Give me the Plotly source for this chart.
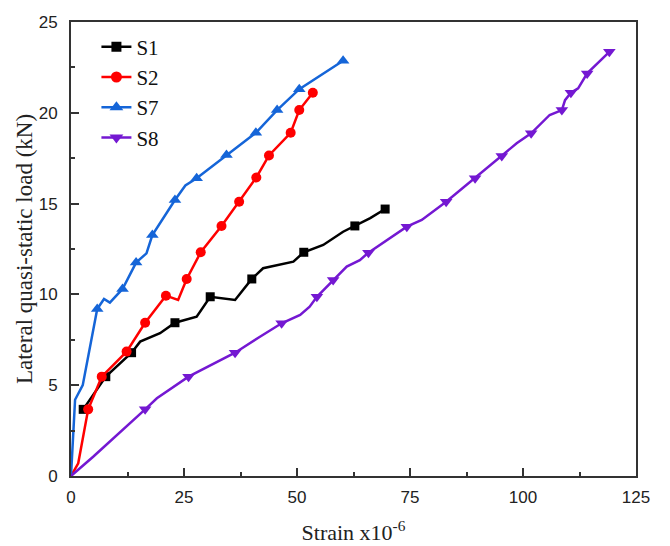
import plotly.graph_objects as go

# ---- data (strain x1e-6, load kN) ----
s1_x = [2.7, 7.7, 13.4, 15.3, 19.7, 23.0, 27.8, 30.8, 36.3, 40.0, 42.5, 49.2, 51.5, 55.8, 60.2, 62.8, 66.2, 69.5]
s1_y = [3.67, 5.47, 6.79, 7.40, 7.86, 8.44, 8.77, 9.87, 9.69, 10.85, 11.44, 11.80, 12.32, 12.72, 13.45, 13.77, 14.2, 14.70]
s1_mk = [0, 1, 2, 5, 7, 9, 12, 15, 17]

s2_x = [0, 1.6, 3.8, 6.8, 12.3, 16.4, 21.0, 23.7, 25.6, 28.7, 33.3, 37.2, 41.0, 43.8, 48.6, 50.5, 53.5]
s2_y = [0, 0.7, 3.67, 5.47, 6.85, 8.44, 9.93, 9.69, 10.85, 12.32, 13.77, 15.1, 16.44, 17.65, 18.9, 20.15, 21.1]
s2_mk = [2, 3, 4, 5, 6, 8, 9, 10, 11, 12, 13, 14, 15, 16]

s7_x = [0, 0.9, 2.6, 5.8, 7.3, 8.6, 11.4, 14.4, 16.7, 18.0, 23.0, 25.3, 27.8, 34.4, 40.9, 45.6, 50.5, 60.2]
s7_y = [0, 4.2, 5.0, 9.2, 9.75, 9.55, 10.3, 11.75, 12.26, 13.27, 15.2, 16.0, 16.4, 17.68, 18.9, 20.15, 21.3, 22.87]
s7_mk = [3, 6, 7, 9, 10, 12, 13, 14, 15, 16, 17]

s8_x = [0, 4.9, 16.4, 19.0, 26.0, 36.3, 41.8, 46.6, 50.7, 52.8, 54.4, 58.0, 61.0, 63.9, 65.8, 74.3, 77.6,
        83.0, 85.3, 89.4, 91.2, 95.3, 98.6, 101.8, 105.9, 108.6, 109.3, 110.6, 112.2, 114.2, 119.1]
s8_y = [0, 1.06, 3.67, 4.28, 5.47, 6.79, 7.67, 8.41, 8.87, 9.32, 9.87, 10.79, 11.53, 11.89, 12.30, 13.73, 14.10,
        15.1, 15.57, 16.39, 16.76, 17.62, 18.32, 18.87, 19.88, 20.15, 20.7, 21.1, 21.35, 22.17, 23.36]
s8_mk = [2, 4, 5, 7, 10, 11, 14, 15, 17, 19, 21, 23, 25, 27, 29, 30]

names = ["S1", "S2", "S7", "S8"]
x_ticks = [0, 25, 50, 75, 100, 125]
y_ticks = [0, 5, 10, 15, 20, 25]

SERIF = "Times New Roman, Liberation Serif, serif"

series = [
    (names[0], s1_x, s1_y, s1_mk, "#000000", "square", 9),
    (names[1], s2_x, s2_y, s2_mk, "#ff0000", "circle", 10),
    (names[2], s7_x, s7_y, s7_mk, "#1565d8", "triangle-up", 11),
    (names[3], s8_x, s8_y, s8_mk, "#7418d2", "triangle-down", 11),
]

fig = go.Figure()
for name, xs, ys, mk, col, sym, sz in series:
    fig.add_trace(go.Scatter(x=xs, y=ys, mode="lines", line=dict(color=col, width=2.5),
                             showlegend=False, legendgroup=name, hoverinfo="skip"))
    fig.add_trace(go.Scatter(x=[xs[i] for i in mk], y=[ys[i] for i in mk], mode="markers",
                             marker=dict(color=col, symbol=sym, size=sz, line=dict(width=0)),
                             showlegend=False, legendgroup=name))
for name, xs, ys, mk, col, sym, sz in series:
    fig.add_trace(go.Scatter(x=[None], y=[None], mode="lines+markers", name=name,
                             line=dict(color=col, width=2.5),
                             marker=dict(color=col, symbol=sym, size=sz + 1), legendgroup=name))

axis_common = dict(
    showgrid=False, zeroline=False, showline=True, linecolor="#333333", linewidth=2,
    mirror=True, ticks="inside", ticklen=8, tickwidth=1.5, tickcolor="#333333",
    tickfont=dict(family="Liberation Sans, Arial", size=17, color="#222222"),
    minor=dict(ticks="inside", ticklen=4, tickwidth=1.5, tickcolor="#333333"),
    automargin=False,
)

fig.update_xaxes(range=[0, 125], tickvals=x_ticks, minor_dtick=12.5, ticklabelstandoff=5,
                 title=dict(text="Strain x10<sup>-6</sup>", standoff=18,
                            font=dict(family=SERIF, size=22, color="#222222")),
                 **axis_common)
fig.update_yaxes(range=[0, 25], tickvals=y_ticks, minor_dtick=2.5, ticklabelstandoff=8,
                 title=dict(text="Lateral quasi-static load (kN)", standoff=0,
                            font=dict(family=SERIF, size=23, color="#222222")),
                 **axis_common)

fig.update_layout(
    width=670, height=546,
    margin=dict(l=71, r=34, t=22, b=70),
    paper_bgcolor="white", plot_bgcolor="white",
    legend=dict(x=0.045, y=0.99, xanchor="left", yanchor="top",
                bgcolor="rgba(0,0,0,0)", borderwidth=0,
                font=dict(family=SERIF, size=21, color="#111111"),
                tracegroupgap=0, itemwidth=30),
)

fig.write_html("out.html")
